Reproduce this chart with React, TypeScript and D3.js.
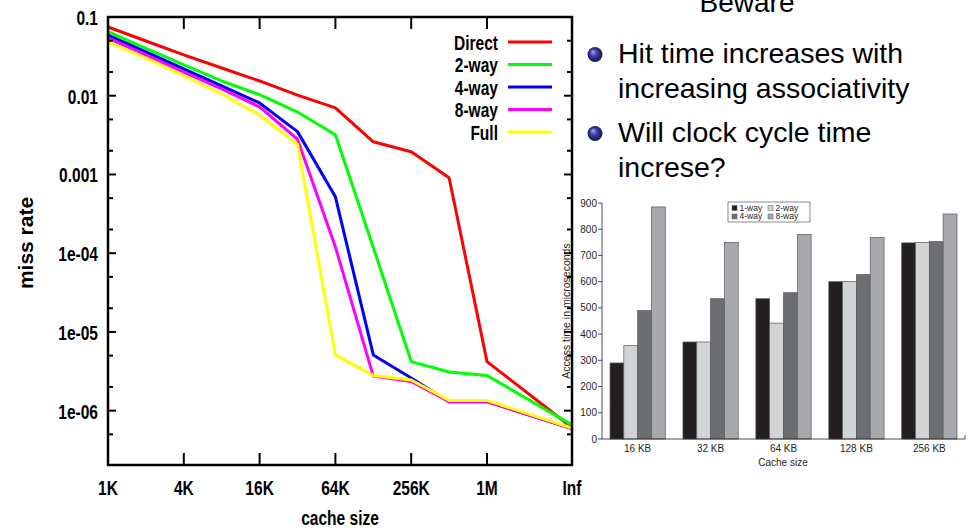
import React, { useRef, useEffect } from "react";
import * as d3 from "d3";

// left chart: miss rate vs cache size
const cacheSizes = ["1K", "2K", "4K", "8K", "16K", "32K", "64K", "128K", "256K", "512K", "1M", "Inf"];
const sizeTicks = ["1K", "4K", "16K", "64K", "256K", "1M", "Inf"];
const missTicks = [0.1, 0.01, 0.001, 1e-4, 1e-5, 1e-6];
const missTickLabels = ["0.1", "0.01", "0.001", "1e-04", "1e-05", "1e-06"];

const assocNames = ["Direct", "2-way", "4-way", "8-way", "Full"];
const directMiss = [0.0746, 0.0496, 0.033, 0.0225, 0.0154, 0.0102, 0.007, 0.0026, 0.00194, 0.00091, 4.2e-6, 6.1e-7];
const twoWayMiss = [0.065, 0.04, 0.0246, 0.0154, 0.0103, 0.0062, 0.0032, 1.18e-4, 4.2e-6, 3.1e-6, 2.8e-6, 6.6e-7];
const fourWayMiss = [0.059, 0.036, 0.022, 0.0133, 0.0081, 0.0035, 5.2e-4, 5.1e-6, 2.6e-6, 1.3e-6, 1.3e-6, 5.9e-7];
const eightWayMiss = [0.054, 0.033, 0.02, 0.0122, 0.0072, 0.0028, 1.2e-4, 2.75e-6, 2.35e-6, 1.3e-6, 1.3e-6, 5.9e-7];
const fullMiss = [0.048, 0.03, 0.018, 0.0105, 0.0057, 0.0024, 5.1e-6, 2.8e-6, 2.45e-6, 1.35e-6, 1.35e-6, 6.0e-7];
const assocColors = ["#ff0000", "#00ff00", "#0000ff", "#ff00ff", "#ffff00"];

// right chart: access time vs cache size
const barSizes = ["16 KB", "32 KB", "64 KB", "128 KB", "256 KB"];
const barSeries = ["1-way", "2-way", "4-way", "8-way"];
const oneWayTime = [290, 370, 535, 600, 748];
const twoWayTime = [357, 370, 442, 600, 750];
const fourWayTime = [490, 535, 558, 627, 753];
const eightWayTime = [885, 750, 780, 768, 858];
const barColors = ["#231f20", "#d1d3d4", "#6d6e71", "#a7a9ac"];
const timeTicks = [0, 100, 200, 300, 400, 500, 600, 700, 800, 900];

const slideTitle = "Beware";
const bulletItems = [
  ["Hit time increases with", "increasing associativity"],
  ["Will clock cycle time", "increse?"],
];

const sans = "'Liberation Sans', Arial, Helvetica, sans-serif";

// bold text squeezed horizontally, stands in for a narrow bold face
const narrowText = (parent: any, x: number, y: number, txt: string, anchor: string, rotate = 0, sx = 0.74) =>
  parent
    .append("text")
    .attr("transform", `translate(${x},${y})${rotate ? ` rotate(${rotate})` : ""} scale(${sx},1)`)
    .attr("text-anchor", anchor)
    .style("font-family", sans)
    .style("font-weight", "bold")
    .style("font-size", "21px")
    .text(txt);

const App = () => {
  const ref = useRef<SVGSVGElement>(null);

  useEffect(() => {
    const svg = d3.select(ref.current);
    svg.selectAll("*").remove();

    // ---------- left line chart ----------
    const x = d3.scaleLinear().domain([0, 10, 11]).range([108, 487, 572]);
    const y = d3.scaleLog().domain([2.04e-7, 0.1]).range([465, 17]);
    const left = svg.append("g");
    const [x0, x1] = [x(0), x(cacheSizes.length - 1)];
    const [yb, yt] = y.range();

    const series = [directMiss, twoWayMiss, fourWayMiss, eightWayMiss, fullMiss];
    const line = d3
      .line<number>()
      .x((_, i) => x(i))
      .y((d) => y(d));

    series.forEach((s, i) => {
      left
        .append("path")
        .attr("d", line(s))
        .attr("fill", "none")
        .attr("stroke", assocColors[i])
        .attr("stroke-width", 3)
        .attr("stroke-linejoin", "round");
    });

    // y ticks (major + minor at 2 and 5)
    y.ticks().forEach((v) => {
      const lead = Math.round(v / Math.pow(10, Math.floor(Math.log10(v) + 1e-9)));
      if (lead !== 1 && lead !== 2 && lead !== 5) return;
      const len = lead === 1 ? 8 : 5;
      const yy = y(v);
      if (yy < yt + 1 || yy > yb - 1) return;
      left.append("line").attr("x1", x0).attr("x2", x0 + len).attr("y1", yy).attr("y2", yy)
        .attr("stroke", "#000").attr("stroke-width", 2);
      left.append("line").attr("x1", x1).attr("x2", x1 - len).attr("y1", yy).attr("y2", yy)
        .attr("stroke", "#000").attr("stroke-width", 2);
    });

    // x ticks top and bottom
    sizeTicks.forEach((t) => {
      const xx = x(cacheSizes.indexOf(t));
      if (xx <= x0 + 1 || xx >= x1 - 1) return;
      left.append("line").attr("x1", xx).attr("x2", xx).attr("y1", yb).attr("y2", yb - 12)
        .attr("stroke", "#000").attr("stroke-width", 2);
      left.append("line").attr("x1", xx).attr("x2", xx).attr("y1", yt).attr("y2", yt + 12)
        .attr("stroke", "#000").attr("stroke-width", 2);
    });

    left
      .append("rect")
      .attr("x", x0)
      .attr("y", yt)
      .attr("width", x1 - x0)
      .attr("height", yb - yt)
      .attr("fill", "none")
      .attr("stroke", "#000")
      .attr("stroke-width", 2.5);

    missTicks.forEach((v, i) => {
      narrowText(left, x0 - 10, y(v) + 8, missTickLabels[i], "end");
    });

    sizeTicks.forEach((t) => {
      narrowText(left, x(cacheSizes.indexOf(t)), yb + 30, t, "middle");
    });

    narrowText(left, 340, 525, "cache size", "middle");
    narrowText(left, 33, 243, "miss rate", "middle", -90, 1);

    // legend
    assocNames.forEach((name, i) => {
      const ly = 42 + i * 22.5;
      narrowText(left, 498, ly + 7.5, name, "end");
      left
        .append("line")
        .attr("x1", 508)
        .attr("x2", 552)
        .attr("y1", ly)
        .attr("y2", ly)
        .attr("stroke", assocColors[i])
        .attr("stroke-width", 3);
    });

    // ---------- text bullets ----------
    const defs = svg.append("defs");
    const grad = defs
      .append("radialGradient")
      .attr("id", "ball")
      .attr("cx", "0.5")
      .attr("cy", "0.5")
      .attr("r", "0.55")
      .attr("fx", "0.35")
      .attr("fy", "0.3");
    grad.append("stop").attr("offset", "0%").attr("stop-color", "#a8a8f0");
    grad.append("stop").attr("offset", "45%").attr("stop-color", "#3a3aa0");
    grad.append("stop").attr("offset", "100%").attr("stop-color", "#12124a");

    svg
      .append("text")
      .attr("x", 747)
      .attr("y", 12)
      .attr("text-anchor", "middle")
      .style("font-family", sans)
      .style("font-size", "28px")
      .text(slideTitle);

    const itemTop = [63, 142];
    bulletItems.forEach((lines, i) => {
      svg
        .append("circle")
        .attr("cx", 595)
        .attr("cy", itemTop[i] - 8.5)
        .attr("r", 7.5)
        .attr("fill", "url(#ball)");
      lines.forEach((l, j) => {
        svg
          .append("text")
          .attr("x", 618)
          .attr("y", itemTop[i] + j * 35)
          .style("font-family", sans)
          .style("font-size", "28.5px")
          .text(l);
      });
    });

    // ---------- right bar chart ----------
    const by = d3.scaleLinear().domain([0, 900]).range([439, 203]);
    const bx = d3.scaleBand().domain(barSizes).range([602, 965]).paddingInner(0.242).paddingOuter(0.11);
    const bs = d3.scaleBand().domain(barSeries).range([0, bx.bandwidth()]);
    const right = svg.append("g");
    const times = [oneWayTime, twoWayTime, fourWayTime, eightWayTime];

    barSizes.forEach((c, ci) => {
      barSeries.forEach((s, si) => {
        const v = times[si][ci];
        right
          .append("rect")
          .attr("x", (bx(c) ?? 0) + (bs(s) ?? 0))
          .attr("y", by(v))
          .attr("width", bs.bandwidth())
          .attr("height", by(0) - by(v))
          .attr("fill", barColors[si])
          .attr("stroke", "#58595b")
          .attr("stroke-width", 0.7);
      });
    });

    const [bx0, bx1] = bx.range();
    right.append("line").attr("x1", bx0).attr("x2", bx1).attr("y1", by(0)).attr("y2", by(0))
      .attr("stroke", "#231f20").attr("stroke-width", 0.8);
    right.append("line").attr("x1", bx1).attr("x2", bx1).attr("y1", by(0)).attr("y2", by(0) - 4)
      .attr("stroke", "#231f20").attr("stroke-width", 0.8);
    right.append("line").attr("x1", bx0).attr("x2", bx0).attr("y1", by(0)).attr("y2", by(900))
      .attr("stroke", "#231f20").attr("stroke-width", 0.8);

    timeTicks.forEach((t) => {
      right.append("line").attr("x1", bx0 - 4).attr("x2", bx0).attr("y1", by(t)).attr("y2", by(t))
        .attr("stroke", "#231f20").attr("stroke-width", 0.8);
      right
        .append("text")
        .attr("x", bx0 - 5)
        .attr("y", by(t))
        .attr("dy", "0.35em")
        .attr("text-anchor", "end")
        .style("font-family", sans)
        .style("font-size", "10px")
        .style("fill", "#231f20")
        .text(t);
    });

    barSizes.forEach((c) => {
      right
        .append("text")
        .attr("x", (bx(c) ?? 0) + bx.bandwidth() / 2)
        .attr("y", 452)
        .attr("text-anchor", "middle")
        .style("font-family", sans)
        .style("font-size", "10px")
        .style("fill", "#231f20")
        .text(c);
    });

    right
      .append("text")
      .attr("x", 783)
      .attr("y", 466)
      .attr("text-anchor", "middle")
      .style("font-family", sans)
      .style("font-size", "10px")
      .style("fill", "#231f20")
      .text("Cache size");

    right
      .append("text")
      .attr("transform", `translate(570, 311) rotate(-90)`)
      .attr("text-anchor", "middle")
      .style("font-family", sans)
      .style("font-size", "10.5px")
      .style("fill", "#231f20")
      .text("Access time in microseconds");

    // bar legend
    const bl = right.append("g");
    bl.append("rect").attr("x", 728).attr("y", 202).attr("width", 82).attr("height", 20)
      .attr("fill", "#fff").attr("stroke", "#58595b").attr("stroke-width", 0.7);
    barSeries.forEach((s, i) => {
      const lx = 732 + (i % 2) * 36;
      const ly = 208 + Math.floor(i / 2) * 8.5;
      bl.append("rect").attr("x", lx).attr("y", ly - 2.5).attr("width", 5).attr("height", 5)
        .attr("fill", barColors[i]).attr("stroke", "#58595b").attr("stroke-width", 0.5);
      bl.append("text")
        .attr("x", lx + 7.5)
        .attr("y", ly)
        .attr("dy", "0.35em")
        .style("font-family", sans)
        .style("font-size", "8.5px")
        .style("fill", "#231f20")
        .text(s);
    });
  }, []);

  return (
    <svg
      ref={ref}
      width={970}
      height={531}
      style={{ position: "absolute", left: 0, top: 0, background: "#fff" }}
    />
  );
};

export default App;
